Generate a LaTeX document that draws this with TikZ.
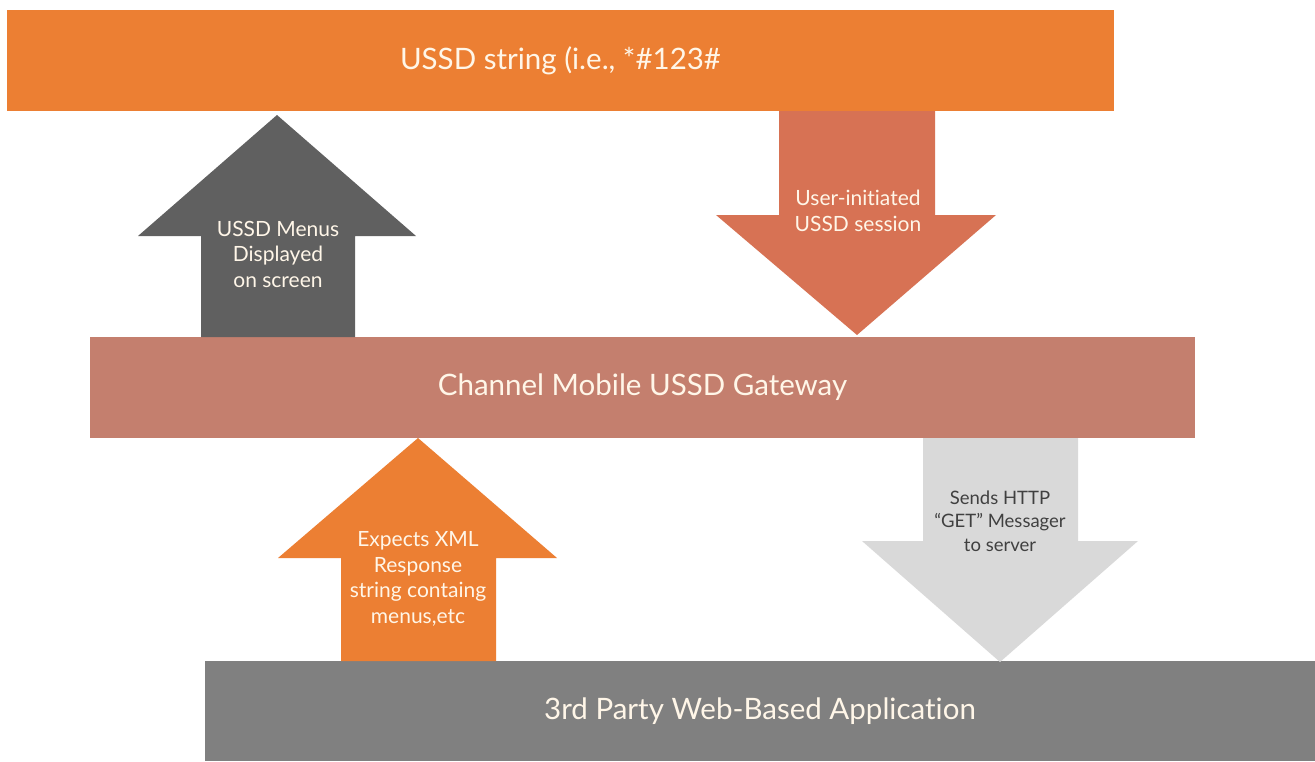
\documentclass[tikz,border=0pt]{standalone}
\usepackage{fontspec}
\setmainfont[Ligatures={NoCommon,TeX}]{Lato}
\definecolor{orangeA}{RGB}{236,127,51}
\definecolor{salmonA}{RGB}{215,114,84}
\definecolor{gatewayA}{RGB}{196,127,110}
\definecolor{darkgreyA}{RGB}{96,96,96}
\definecolor{lightgreyA}{RGB}{217,217,217}
\definecolor{midgreyA}{RGB}{128,128,128}
\definecolor{creamA}{RGB}{255,246,232}
\begin{document}
\begin{tikzpicture}[x=1pt,y=-1pt,
  bar/.style={inner sep=0pt, outer sep=0pt, text=creamA, font=\fontsize{29.5}{33}\selectfont},
  arrowtext/.style={align=center, inner sep=0pt, text=creamA, font=\fontsize{21}{25.5}\selectfont},
  darktext/.style={align=center, inner sep=0pt, text=black!75, font=\fontsize{18.5}{23.5}\selectfont}]
\useasboundingbox (0,0) rectangle (1315,761);
\fill[white] (0,0) rectangle (1315,761);
% bars
\node[bar, fill=orangeA, minimum width=1107pt, minimum height=101pt] (top) at (560.5,60.5) {USSD string (i.e., *\#123\#};
\node[bar, fill=gatewayA, minimum width=1105pt, minimum height=101pt] (gw) at (642.5,387.5) {Channel Mobile USSD Gateway};
\node[bar, fill=midgreyA, minimum width=1110pt, minimum height=100pt] (app) at (760,711) {3rd Party Web-Based Application};
% grey up arrow
\fill[darkgreyA] (201,337) -- (201,236) -- (138,236) -- (277,115) -- (416,236) -- (355,236) -- (355,337) -- cycle;
\node[arrowtext] (menus) at (278,254) {USSD Menus\\Displayed\\on screen};
% salmon down arrow
\fill[salmonA] (779,111) -- (935,111) -- (935,215) -- (996,215) -- (857,335) -- (716,215) -- (779,215) -- cycle;
\node[arrowtext] (user) at (858,211) {User-initiated\\USSD session};
% orange up arrow
\fill[orangeA] (341,661) -- (341,558) -- (278,558) -- (418,438) -- (557,558) -- (496,558) -- (496,661) -- cycle;
\node[arrowtext] (xml) at (418,579) {Expects XML\\Response\\string containg\\menus,etc};
% light grey down arrow
\fill[lightgreyA] (923,438) -- (1078,438) -- (1078,541) -- (1138,541) -- (1000,662) -- (862,541) -- (923,541) -- cycle;
\node[darktext] (http) at (1000,521) {Sends HTTP\\``GET'' Messager\\to server};
\end{tikzpicture}
\end{document}
